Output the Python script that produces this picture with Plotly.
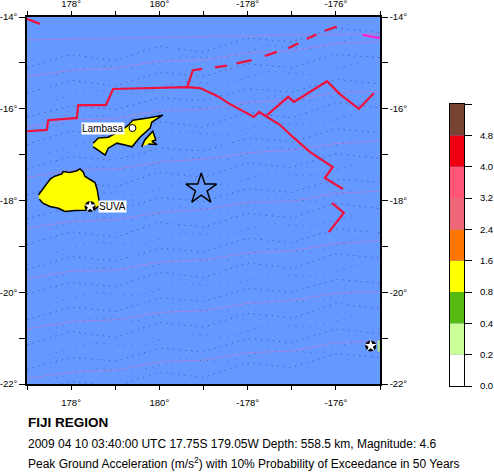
"""
FIJI REGION - peak ground acceleration hazard map
"""
import plotly.graph_objects as go

W, H = 494, 472
OCEAN = '#6699ff'

lon_ticks = [177, 178, 179, 180, 181, 182, 183, 184, 185]
lon_labels = ['', '178°', '', '180°', '', '-178°', '', '-176°', '']
lat_ticks = [-22, -21, -20, -19, -18, -17, -16, -15, -14]
lat_labels = ['-22°', '', '-20°', '', '-18°', '', '-16°', '', '-14°']

# plate boundaries, lon / lat (None breaks a line)
fault_lon = [177.0, 177.45, 177.48, 178.13, 178.16, 178.79, 178.95, 180.63, 180.92, 181.31, 181.6, 182.14, 182.26, 182.44, 182.73,
             183.03, 183.41, 183.93, 183.75, 184.16, None,
             180.63, 180.76, 180.97, None,
             182.44, 182.92, 183.05, 183.8, 184.09, 184.52, 184.86, None,
             183.91, 184.18, 183.84, None,
             177.0, 177.29]
fault_lat = [-16.49, -16.46, -16.25, -16.2, -15.92, -15.92, -15.57, -15.53, -15.55, -15.72, -15.9, -16.18, -16.07, -16.18, -16.35,
             -16.62, -16.94, -17.27, -17.51, -17.75, None,
             -15.53, -15.16, -15.13, None,
             -16.14, -15.74, -15.85, -15.4, -15.68, -16.0, -15.66, None,
             -18.05, -18.27, -18.69, None,
             -14.04, -14.15]
trench_lon = [181.26, 181.53, None, 181.75, 182.09, None, 182.39, 182.66, None, 182.92, 183.15, None, 183.34, 183.56, None, 183.75, 184.02]
trench_lat = [-15.1, -15.06, None, -15.01, -14.94, None, -14.85, -14.76, None, -14.68, -14.57, None, -14.48, -14.38, None, -14.3, -14.21]
transform_lon = [184.61, 185.0]
transform_lat = [-14.39, -14.46]

# faint wave pattern over the ocean, estimated by eye
wave_lon = [177, 178, 179, 180, 181, 182, 183, 184, 185]
wave_lon_mid = [177.5, 178.5, 179.5, 180.5, 181.5, 182.5, 183.5, 184.5]
dotted_rows = [
    [-15.1, -14.82, -14.95, -14.64, -14.76, -14.46, -14.54, -14.24, -14.34],
    [-15.66, -15.38, -15.5, -15.2, -15.3, -15.02, -15.1, -14.82, -14.88],
    [-16.18, -15.94, -16.02, -15.76, -15.82, -15.56, -15.64, -15.36, -15.46],
    [-16.78, -16.48, -16.62, -16.28, -16.4, -16.08, -16.2, -15.86, -15.98],
    [-17.3, -17.04, -17.12, -16.86, -16.92, -16.64, -16.72, -16.44, -16.52],
    [-17.88, -17.58, -17.7, -17.38, -17.5, -17.18, -17.28, -16.98, -17.08],
    [-18.4, -18.14, -18.22, -17.94, -18.02, -17.74, -17.82, -17.54, -17.6],
    [-18.96, -18.68, -18.8, -18.48, -18.58, -18.28, -18.38, -18.06, -18.18],
    [-19.5, -19.22, -19.32, -19.04, -19.12, -18.82, -18.92, -18.62, -18.7],
    [-20.04, -19.78, -19.88, -19.56, -19.68, -19.36, -19.48, -19.16, -19.26],
    [-20.6, -20.32, -20.42, -20.12, -20.2, -19.92, -20.0, -19.72, -19.8],
    [-21.14, -20.86, -20.98, -20.66, -20.76, -20.46, -20.56, -20.24, -20.36],
    [-21.68, -21.42, -21.5, -21.22, -21.3, -21.0, -21.1, -20.8, -20.9],
    [-22.22, -21.94, -22.06, -21.74, -21.86, -21.54, -21.64, -21.34, -21.42],
]
dotted_rows_mid = [
    [-15.3, -15.06, -15.12, -14.86, -14.9, -14.62, -14.7, -14.44],
    [-15.84, -15.6, -15.68, -15.4, -15.46, -15.18, -15.26, -15.0],
    [-16.42, -16.14, -16.22, -15.96, -16.0, -15.74, -15.82, -15.56],
    [-16.96, -16.7, -16.76, -16.5, -16.58, -16.3, -16.36, -16.1],
    [-17.52, -17.26, -17.34, -17.04, -17.12, -16.84, -16.92, -16.66],
    [-18.06, -17.8, -17.88, -17.6, -17.66, -17.4, -17.46, -17.2],
    [-18.62, -18.36, -18.42, -18.14, -18.22, -17.94, -18.02, -17.76],
    [-19.16, -18.9, -18.98, -18.7, -18.76, -18.5, -18.56, -18.3],
    [-19.72, -19.46, -19.52, -19.26, -19.32, -19.04, -19.12, -18.84],
    [-20.26, -20.0, -20.08, -19.8, -19.88, -19.6, -19.66, -19.4],
    [-20.82, -20.56, -20.62, -20.36, -20.42, -20.14, -20.22, -19.96],
    [-21.36, -21.1, -21.18, -20.9, -20.98, -20.7, -20.76, -20.5],
    [-21.9, -21.66, -21.72, -21.46, -21.52, -21.26, -21.32, -21.06],
]
pink_rows = [
    [-14.5, -14.48, -14.46, -14.44, -14.42, -14.41, -14.39, -14.38, -14.36],
    [-15.3, -15.16, -15.12, -14.96, -14.94, -14.78, -14.74, -14.58, -14.54],
    [-16.4, -16.24, -16.22, -16.04, -16.02, -15.86, -15.82, -15.64, -15.62],
    [-17.5, -17.34, -17.32, -17.16, -17.1, -16.96, -16.9, -16.76, -16.7],
    [-18.6, -18.46, -18.42, -18.26, -18.2, -18.04, -18.02, -17.84, -17.8],
    [-19.7, -19.54, -19.52, -19.34, -19.3, -19.14, -19.1, -18.94, -18.88],
    [-20.8, -20.64, -20.6, -20.44, -20.4, -20.24, -20.18, -20.02, -19.98],
    [-21.88, -21.74, -21.7, -21.52, -21.48, -21.32, -21.28, -21.1, -21.06],
]

# islands
viti_lon = [177.26, 177.31, 177.39, 177.45, 177.54, 177.63, 177.79, 177.82, 177.97, 178.13, 178.2, 178.28, 178.31, 178.44, 178.54, 178.59,
            178.64, 178.65, 178.52, 178.31, 178.09, 177.86, 177.71, 177.52, 177.36, 177.28]
viti_lat = [-17.88, -17.81, -17.71, -17.63, -17.52, -17.47, -17.42, -17.37, -17.39, -17.35, -17.31, -17.39, -17.47, -17.54, -17.61, -17.76,
            -17.99, -18.1, -18.21, -18.21, -18.22, -18.24, -18.17, -18.13, -18.06, -17.97]
vanua_lon = [178.5, 178.61, 178.84, 179.06, 179.27, 179.4, 179.74, 180.08, 179.83, 179.79, 179.56, 179.45, 179.38, 179.22, 179.04, 178.84, 178.77, 178.61, 178.5]
vanua_lat = [-16.75, -16.64, -16.62, -16.51, -16.38, -16.25, -16.2, -16.14, -16.29, -16.42, -16.62, -16.75, -16.83, -16.79, -16.75, -16.86, -17.01, -16.9, -16.83]
taveuni_lon = [179.6, 179.67, 179.85, 179.92, 179.83, 179.95, 179.75]
taveuni_lat = [-16.83, -16.68, -16.49, -16.68, -16.71, -16.78, -16.77]

# hazard scale
scale_labels = ['0.0', '0.2', '0.4', '0.8', '1.6', '2.4', '3.2', '4.0', '4.8', '']
scale_colors = ['#ffffff', '#ccff99', '#55bb11', '#ffff00', '#ff7700', '#ee6677', '#ff5577', '#ee0011', '#774433']

# events and towns
event_lon, event_lat = [180.95], [-17.75]
town_lon, town_lat = [178.43], [-18.13]
city_lon, city_lat = [179.39], [-16.42]
far_lon, far_lat = [184.79], [-21.17]
far_label_lon = [184.97]

fig = go.Figure()

for row in pink_rows:
    fig.add_trace(go.Scatter(x=wave_lon, y=row, mode='lines', line=dict(color='rgba(235,105,175,0.4)', width=1)))
for row in dotted_rows:
    fig.add_trace(go.Scatter(x=wave_lon, y=row, mode='lines', line=dict(color='rgba(40,40,100,0.65)', width=1, dash='1px,5px')))
for row in dotted_rows_mid:
    fig.add_trace(go.Scatter(x=wave_lon_mid, y=row, mode='lines', line=dict(color='rgba(40,40,100,0.45)', width=1, dash='1px,6px')))

for lons, lats in [(viti_lon, viti_lat), (vanua_lon, vanua_lat), (taveuni_lon, taveuni_lat)]:
    fig.add_trace(go.Scatter(x=lons, y=lats, mode='lines', fill='toself', fillcolor='#ffff00', line=dict(color='black', width=1.5)))

fig.add_trace(go.Scatter(x=fault_lon, y=fault_lat, mode='lines', line=dict(color='#f0103c', width=2.2)))
fig.add_trace(go.Scatter(x=trench_lon, y=trench_lat, mode='lines', line=dict(color='#f0103c', width=2.2)))
fig.add_trace(go.Scatter(x=transform_lon, y=transform_lat, mode='lines', line=dict(color='#ff22cc', width=2.2)))

fig.add_trace(go.Scatter(x=event_lon, y=event_lat, mode='markers', marker=dict(symbol='star-open', size=23, color='black', line=dict(color='black', width=1.5))))
fig.add_trace(go.Scatter(x=city_lon, y=city_lat, mode='markers', marker=dict(symbol='circle', size=7, color='white', line=dict(color='black', width=1))))
for lons, lats in [(town_lon, town_lat), (far_lon, far_lat)]:
    fig.add_trace(go.Scatter(x=lons, y=lats, mode='markers', marker=dict(symbol='circle', size=11, color='black')))
    fig.add_trace(go.Scatter(x=lons, y=lats, mode='markers', marker=dict(symbol='star', size=9, color='white', line=dict(width=0))))
# the label next to the far point is cut off by the map frame, only its edge shows
fig.add_trace(go.Scatter(x=far_label_lon, y=far_lat, mode='markers', marker=dict(symbol='line-ns-open', size=8, line=dict(color='white', width=2))))

# dummy trace so the top / right axes get drawn
fig.add_trace(go.Scatter(x=[177], y=[-14], mode='none', xaxis='x3', yaxis='y3'))

# scale bar, equal height boxes
for i, color in enumerate(scale_colors):
    fig.add_trace(go.Bar(x=[0], y=[1], base=[i], width=1, marker=dict(color=color, line=dict(color='black', width=0)), xaxis='x2', yaxis='y2'))

tick_font = dict(family='Liberation Sans', size=9.5, color='black')
lon_axis = dict(range=[177, 185], domain=[27 / W, 380 / W], tickmode='array', tickvals=lon_ticks, ticktext=lon_labels,
                ticks='outside', ticklen=4, tickwidth=1, tickcolor='black', showgrid=False, zeroline=False, automargin=False,
                showline=True, linecolor='black', linewidth=1.5, tickfont=tick_font, tickangle=0)
lat_axis = dict(range=[-22, -14], domain=[1 - 384 / H, 1 - 17 / H], tickmode='array', tickvals=lat_ticks, ticktext=lat_labels,
                ticks='outside', ticklen=6, tickwidth=1, tickcolor='black', showgrid=False, zeroline=False, automargin=False,
                showline=True, linecolor='black', linewidth=1.5, tickfont=tick_font)

fig.update_layout(
    width=W, height=H, margin=dict(l=0, r=0, t=0, b=0), showlegend=False, barmode='overlay',
    paper_bgcolor='white', plot_bgcolor=OCEAN,
    xaxis=dict(lon_axis, ticklabelstandoff=5), yaxis=lat_axis,
    xaxis3=dict(lon_axis, overlaying='x', side='top', anchor='y3'),
    yaxis3=dict(lat_axis, overlaying='y', side='right', anchor='x3'),
    xaxis2=dict(domain=[450 / W, 464 / W], range=[-0.5, 0.5], anchor='y2', showticklabels=False, ticks='', showgrid=False, zeroline=False,
                showline=True, linecolor='black', linewidth=1, mirror=True, automargin=False),
    yaxis2=dict(domain=[1 - 386 / H, 1 - 104 / H], range=[0, 9], anchor='x2', side='right', tickmode='array', tickvals=list(range(10)),
                ticktext=scale_labels, ticks='outside', ticklen=7, tickcolor='black', showgrid=False, zeroline=False, tickfont=tick_font,
                showline=True, linecolor='black', linewidth=1, mirror=True, automargin=False, ticklabelstandoff=6),
)

fig.add_annotation(x=city_lon[0] - 0.17, y=city_lat[0], xref='x', yref='y', text='Lambasa', showarrow=False, xanchor='right', bgcolor='white',
                   font=dict(family='Liberation Sans', size=10, color='black'), borderpad=0)
fig.add_annotation(x=town_lon[0] + 0.17, y=town_lat[0], xref='x', yref='y', text='SUVA', showarrow=False, xanchor='left', bgcolor='white',
                   font=dict(family='Liberation Sans', size=10, color='black'), borderpad=0)

footer = [('<b>FIJI REGION</b>', 422, 13.5),
          ('2009 04 10 03:40:00 UTC 17.75S 179.05W Depth: 558.5 km, Magnitude: 4.6', 444, 12),
          ('Peak Ground Acceleration (m/s<sup>2</sup>) with 10% Probability of Exceedance in 50 Years', 463, 12)]
for text, y_px, size in footer:
    fig.add_annotation(x=26 / W, y=1 - y_px / H, xref='paper', yref='paper', text=text, showarrow=False, xanchor='left', yanchor='middle',
                       font=dict(family='Liberation Sans', size=size, color='black'))

fig.write_html("out.html", config={'displayModeBar': False}, post_script="document.body.style.margin='0';")
